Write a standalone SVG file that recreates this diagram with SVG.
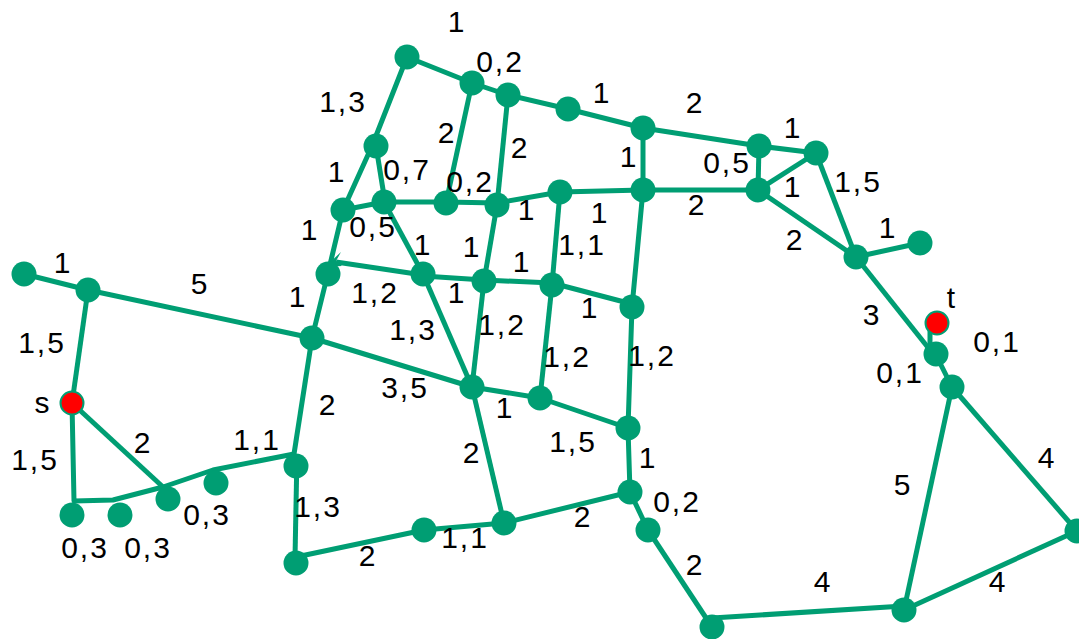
<svg xmlns="http://www.w3.org/2000/svg" width="1079" height="639" viewBox="0 0 1079 639">
<style>
.e{stroke:#009E73;stroke-width:5;fill:none;stroke-linejoin:round}
.n{fill:#009E73}
.r{fill:#FF0000;stroke:#009E73;stroke-width:2}
.l{font-family:"Liberation Sans",Arial,sans-serif;font-size:30px;letter-spacing:2px;fill:#000;text-anchor:middle}
</style>
<rect width="1079" height="639" fill="#fff"/>
<g id="connectors">
<line class="e" x1="24" y1="274" x2="88" y2="290"/>
<polyline class="e" points="88,290 312,338 472,387 540,398 628,428"/>
<line class="e" x1="88" y1="290" x2="72" y2="403"/>
<polyline class="e" points="72,403 74,501 113,500 163,487 213,470 294,454"/>
<line class="e" x1="72" y1="403" x2="163" y2="487"/>
<line class="e" x1="294" y1="454" x2="312" y2="338"/>
<line class="e" x1="297" y1="454" x2="295" y2="558"/>
<polyline class="e" points="312,338 328,273 343,210 372,146 407,57"/>
<line class="e" x1="376" y1="146" x2="385" y2="202"/>
<line class="e" x1="343" y1="210" x2="384" y2="202"/>
<polyline class="e" points="384,202 446,202 497,203 560,192 643,190 758,190"/>
<polyline class="e" points="407,57 472,83 508,95 568,109 643,128 759,146 816,153"/>
<line class="e" x1="472" y1="83" x2="446" y2="203"/>
<line class="e" x1="508" y1="95" x2="497" y2="205"/>
<line class="e" x1="643" y1="128" x2="643" y2="190"/>
<line class="e" x1="759" y1="146" x2="758" y2="190"/>
<line class="e" x1="758" y1="190" x2="816" y2="153"/>
<line class="e" x1="816" y1="153" x2="856" y2="257"/>
<line class="e" x1="758" y1="190" x2="856" y2="257"/>
<line class="e" x1="856" y1="257" x2="920" y2="243"/>
<line class="e" x1="856" y1="257" x2="930" y2="350"/>
<line class="e" x1="930" y1="330" x2="930" y2="350"/>
<line class="e" x1="936" y1="355" x2="952" y2="387"/>
<line class="e" x1="952" y1="387" x2="904" y2="610"/>
<line class="e" x1="952" y1="387" x2="1077" y2="531"/>
<line class="e" x1="1077" y1="531" x2="904" y2="610"/>
<line class="e" x1="904" y1="606" x2="712" y2="618"/>
<line class="e" x1="712" y1="627" x2="648" y2="530"/>
<line class="e" x1="648" y1="530" x2="630" y2="492"/>
<polyline class="e" points="630,492 628,428 632,307 643,190"/>
<polyline class="e" points="630,492 504,523 424,530 296,557"/>
<line class="e" x1="472" y1="387" x2="504" y2="523"/>
<line class="e" x1="423" y1="274" x2="472" y2="387"/>
<line class="e" x1="484" y1="281" x2="472" y2="387"/>
<line class="e" x1="552" y1="285" x2="540" y2="398"/>
<line class="e" x1="560" y1="192" x2="552" y2="285"/>
<line class="e" x1="497" y1="205" x2="484" y2="281"/>
<line class="e" x1="384" y1="202" x2="423" y2="274"/>
<line class="e" x1="336" y1="262" x2="423" y2="275"/>
<polygon points="325,267 341,252 336,261 342,266" fill="#009E73"/>
<polyline class="e" points="423,276 484,280 552,283 632,304"/>
</g>
<g id="node-a"><circle class="n" cx="24" cy="274" r="12.5"/></g>
<g id="node-b"><circle class="n" cx="88" cy="290" r="12.5"/></g>
<g id="node-s"><circle class="r" cx="72" cy="403" r="11.5"/></g>
<g id="node-c"><circle class="n" cx="72" cy="515" r="12.5"/></g>
<g id="node-d"><circle class="n" cx="120" cy="515" r="12.5"/></g>
<g id="node-e"><circle class="n" cx="168" cy="499" r="12.5"/></g>
<g id="node-f"><circle class="n" cx="216" cy="483" r="12.5"/></g>
<g id="node-g"><circle class="n" cx="296" cy="466" r="12.5"/></g>
<g id="node-h"><circle class="n" cx="296" cy="563" r="12.5"/></g>
<g id="node-i"><circle class="n" cx="312" cy="338" r="12.5"/></g>
<g id="node-j"><circle class="n" cx="328" cy="274" r="12.5"/></g>
<g id="node-1"><circle class="n" cx="407" cy="57" r="12.5"/></g>
<g id="node-2"><circle class="n" cx="472" cy="83" r="12.5"/></g>
<g id="node-3"><circle class="n" cx="508" cy="95" r="12.5"/></g>
<g id="node-4"><circle class="n" cx="568" cy="109" r="12.5"/></g>
<g id="node-5"><circle class="n" cx="376" cy="146" r="12.5"/></g>
<g id="node-6"><circle class="n" cx="343" cy="210" r="12.5"/></g>
<g id="node-7"><circle class="n" cx="384" cy="202" r="12.5"/></g>
<g id="node-8"><circle class="n" cx="446" cy="203" r="12.5"/></g>
<g id="node-9"><circle class="n" cx="497" cy="205" r="12.5"/></g>
<g id="node-10"><circle class="n" cx="560" cy="192" r="12.5"/></g>
<g id="node-11"><circle class="n" cx="423" cy="274" r="12.5"/></g>
<g id="node-12"><circle class="n" cx="484" cy="281" r="12.5"/></g>
<g id="node-13"><circle class="n" cx="552" cy="285" r="12.5"/></g>
<g id="node-m"><circle class="n" cx="632" cy="307" r="12.5"/></g>
<g id="node-k"><circle class="n" cx="472" cy="387" r="12.5"/></g>
<g id="node-l"><circle class="n" cx="540" cy="398" r="12.5"/></g>
<g id="node-p"><circle class="n" cx="628" cy="428" r="12.5"/></g>
<g id="node-q"><circle class="n" cx="630" cy="492" r="12.5"/></g>
<g id="node-r"><circle class="n" cx="504" cy="523" r="12.5"/></g>
<g id="node-s2"><circle class="n" cx="424" cy="530" r="12.5"/></g>
<g id="node-t2"><circle class="n" cx="648" cy="530" r="12.5"/></g>
<g id="node-u"><circle class="n" cx="712" cy="627" r="12.5"/></g>
<g id="node-v"><circle class="n" cx="643" cy="190" r="12.5"/></g>
<g id="node-w"><circle class="n" cx="643" cy="128" r="12.5"/></g>
<g id="node-x"><circle class="n" cx="759" cy="146" r="12.5"/></g>
<g id="node-y"><circle class="n" cx="816" cy="153" r="12.5"/></g>
<g id="node-z"><circle class="n" cx="758" cy="190" r="12.5"/></g>
<g id="node-aa"><circle class="n" cx="856" cy="257" r="12.5"/></g>
<g id="node-ab"><circle class="n" cx="920" cy="243" r="12.5"/></g>
<g id="node-t"><circle class="r" cx="937" cy="323" r="11.5"/></g>
<g id="node-ac"><circle class="n" cx="936" cy="354" r="12.5"/></g>
<g id="node-ad"><circle class="n" cx="952" cy="387" r="12.5"/></g>
<g id="node-ae"><circle class="n" cx="1077" cy="531" r="12.5"/></g>
<g id="node-af"><circle class="n" cx="904" cy="610" r="12.5"/></g>
<g id="labels">
<text class="l" x="457" y="32">1</text>
<text class="l" x="500" y="72">0,2</text>
<text class="l" x="343" y="112">1,3</text>
<text class="l" x="447" y="143">2</text>
<text class="l" x="520" y="158">2</text>
<text class="l" x="337" y="182">1</text>
<text class="l" x="407" y="180">0,7</text>
<text class="l" x="470" y="192">0,2</text>
<text class="l" x="527" y="220">1</text>
<text class="l" x="310" y="240">1</text>
<text class="l" x="373" y="237">0,5</text>
<text class="l" x="423" y="255">1</text>
<text class="l" x="472" y="257">1</text>
<text class="l" x="522" y="272">1</text>
<text class="l" x="375" y="303">1,2</text>
<text class="l" x="457" y="303">1</text>
<text class="l" x="298" y="307">1</text>
<text class="l" x="590" y="318">1</text>
<text class="l" x="413" y="340">1,3</text>
<text class="l" x="502" y="335">1,2</text>
<text class="l" x="567" y="367">1,2</text>
<text class="l" x="652" y="366">1,2</text>
<text class="l" x="405" y="398">3,5</text>
<text class="l" x="505" y="418">1</text>
<text class="l" x="328" y="415">2</text>
<text class="l" x="573" y="452">1,5</text>
<text class="l" x="472" y="463">2</text>
<text class="l" x="648" y="468">1</text>
<text class="l" x="318" y="517">1,3</text>
<text class="l" x="583" y="527">2</text>
<text class="l" x="465" y="548">1,1</text>
<text class="l" x="368" y="566">2</text>
<text class="l" x="677" y="512">0,2</text>
<text class="l" x="695" y="575">2</text>
<text class="l" x="823" y="592">4</text>
<text class="l" x="998" y="592">4</text>
<text class="l" x="903" y="495">5</text>
<text class="l" x="1047" y="468">4</text>
<text class="l" x="900" y="383">0,1</text>
<text class="l" x="997" y="352">0,1</text>
<text class="l" x="872" y="325">3</text>
<text class="l" x="952" y="308">t</text>
<text class="l" x="888" y="238">1</text>
<text class="l" x="795" y="250">2</text>
<text class="l" x="858" y="192">1,5</text>
<text class="l" x="793" y="197">1</text>
<text class="l" x="727" y="173">0,5</text>
<text class="l" x="697" y="215">2</text>
<text class="l" x="600" y="223">1</text>
<text class="l" x="582" y="255">1,1</text>
<text class="l" x="629" y="167">1</text>
<text class="l" x="602" y="103">1</text>
<text class="l" x="695" y="113">2</text>
<text class="l" x="793" y="138">1</text>
<text class="l" x="63" y="273">1</text>
<text class="l" x="200" y="294">5</text>
<text class="l" x="42" y="353">1,5</text>
<text class="l" x="43" y="413">s</text>
<text class="l" x="35" y="470">1,5</text>
<text class="l" x="143" y="453">2</text>
<text class="l" x="257" y="450">1,1</text>
<text class="l" x="207" y="525">0,3</text>
<text class="l" x="85" y="558">0,3</text>
<text class="l" x="148" y="558">0,3</text>
</g>
</svg>
